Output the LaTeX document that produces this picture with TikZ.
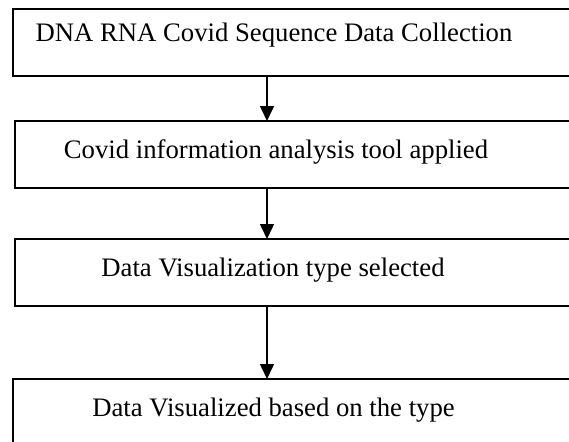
\documentclass[tikz,border=0pt]{standalone}
\usepackage{fontspec}
\setmainfont{Liberation Serif}
\usetikzlibrary{arrows.meta}
\begin{document}
\begin{tikzpicture}[x=1pt,y=-1pt,
  boxstyle/.style={draw,line width=1.6pt,rectangle,inner sep=0pt,outer sep=0pt},
  labelstyle/.style={anchor=base,inner sep=0pt,font=\fontsize{26.7}{30}\selectfont},
  flow/.style={line width=1.6pt,-{Triangle[length=15pt,width=14pt]}}]
\useasboundingbox (0,0) rectangle (569,441);
\clip (0,0) rectangle (569,441);
\node[boxstyle,minimum width=600pt,minimum height=67pt,anchor=north west] (b1) at (13,9) {};
\node[boxstyle,minimum width=600pt,minimum height=67pt,anchor=north west] (b2) at (15,121) {};
\node[boxstyle,minimum width=600pt,minimum height=67pt,anchor=north west] (b3) at (15,239) {};
\node[boxstyle,minimum width=600pt,minimum height=90pt,anchor=north west] (b4) at (13,379) {};
\node[labelstyle] (t1) at (274,42) {DNA RNA Covid Sequence Data Collection};
\node[labelstyle] (t2) at (276,158) {Covid information analysis tool applied};
\node[labelstyle] (t3) at (273,276) {Data Visualization type selected};
\node[labelstyle] (t4) at (273.5,416) {Data Visualized based on the type};
\coordinate (ax) at (267,0);
\draw[flow] (b1.south -| ax) -- (b2.north -| ax);
\draw[flow] (b2.south -| ax) -- (b3.north -| ax);
\draw[flow] (b3.south -| ax) -- (b4.north -| ax);
\end{tikzpicture}
\end{document}
